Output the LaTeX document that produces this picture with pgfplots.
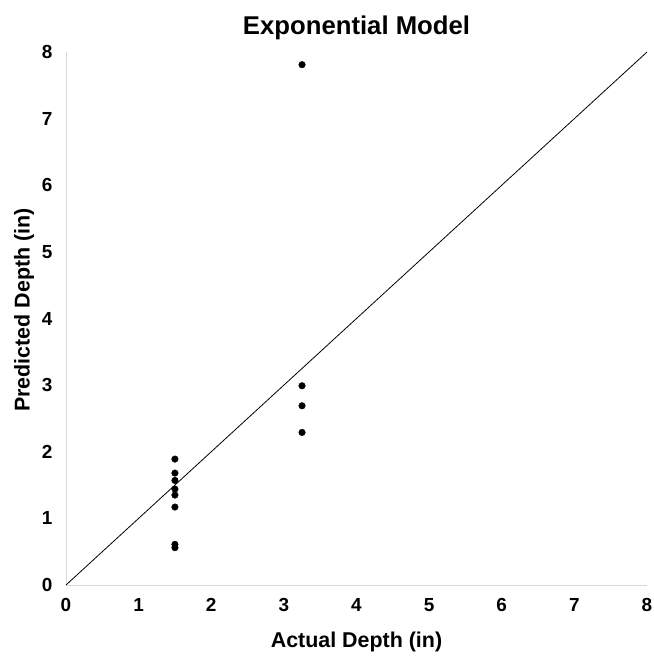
\documentclass[border=0pt]{standalone}
\usepackage{pgfplots}
\pgfplotsset{compat=1.18}
\usepackage{fontspec}
\setmainfont{Liberation Sans}
\definecolor{axgray}{HTML}{D9D9D9}
\begin{document}
\begin{tikzpicture}
\begin{axis}[
  scale only axis,
  width=581bp, height=533bp,
  xmin=0, xmax=8, ymin=0, ymax=8,
  xtick={0,1,...,8}, ytick={0,1,...,8},
  axis lines=left,
  axis line style={axgray, line width=1pt, -},
  major tick length=0pt,
  /pgf/number format/assume math mode=true,
  tick label style={font=\fontsize{19}{19}\selectfont\bfseries},
  xticklabel style={yshift=-10bp},
  yticklabel style={xshift=-10bp},
  xlabel={Actual Depth (in)},
  ylabel={Predicted Depth (in)},
  label style={font=\fontsize{21.5}{21.5}\selectfont\bfseries},
  xlabel style={at={(axis description cs:0.5,-0.107)}, anchor=center},
  ylabel style={at={(axis description cs:-0.072,0.516)}, anchor=center},
  title={Exponential Model},
  title style={font=\fontsize{25.8}{25.8}\selectfont\bfseries, at={(axis description cs:0.5,1.035)}, anchor=center},
  clip=false,
]
\addplot[black, line width=0.8pt, no marks] coordinates {(0,0) (8,8)};
\addplot[only marks, mark=*, mark size=3.3bp, black] coordinates {
  (1.5,1.89) (1.5,1.68) (1.5,1.57) (1.5,1.44) (1.5,1.35) (1.5,1.17) (1.5,0.61) (1.5,0.56)
  (3.25,7.81) (3.25,2.99) (3.25,2.69) (3.25,2.29)
};
\end{axis}
\pgfresetboundingbox
\useasboundingbox (-66bp,-71bp) rectangle (588bp,585bp);
\end{tikzpicture}
\end{document}
